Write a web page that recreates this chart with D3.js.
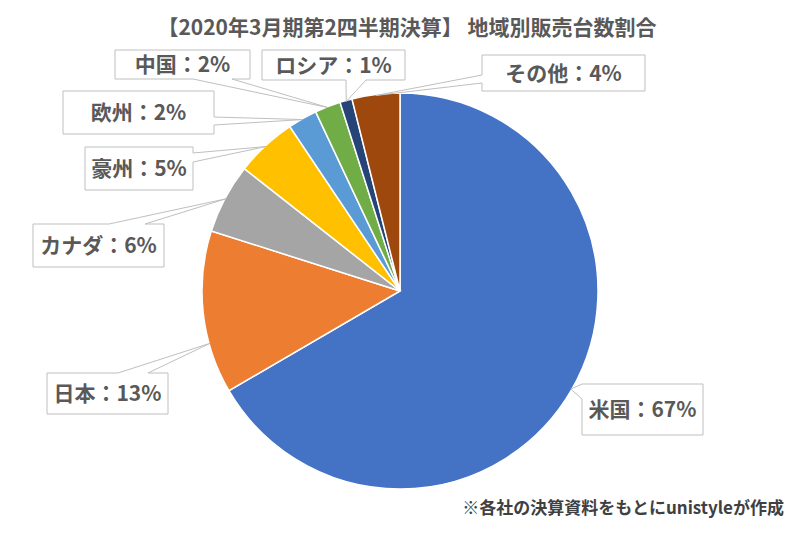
<!DOCTYPE html>
<html>
<head>
<meta charset="utf-8">
<script src="https://cdn.jsdelivr.net/npm/d3@7"></script>
<style>
  html, body { margin: 0; padding: 0; background: #ffffff; }
  svg { display: block; }
  text { font-family: "Noto Sans CJK JP", "Noto Sans", sans-serif; font-weight: bold; }
</style>
</head>
<body>
<svg id="chart" width="800" height="533"></svg>
<script>
// ---- data ----
const regions = ["米国", "日本", "カナダ", "豪州", "欧州", "中国", "ロシア", "その他"];
const shares  = [66.6, 13.3, 5.7, 5.0, 2.4, 2.1, 1.0, 3.9];
const colors  = ["#4472C4", "#ED7D31", "#A5A5A5", "#FFC000", "#5B9BD5", "#70AD47", "#264478", "#9E480E"];
const titleText = "【2020年3月期第2四半期決算】 地域別販売台数割合";
const noteText = "※各社の決算資料をもとにunistyleが作成";

// ---- callout layout (box geometry + pointer side) ----
const calloutBoxes = [
  { x: 582, y: 384, w: 121, h: 51, side: "left",   b1: 384, b2: 399, frac: 0.5 },
  { x: 47,  y: 373, w: 121, h: 41, side: "top",    b1: 118, b2: 148, frac: 0.31 },
  { x: 33,  y: 224, w: 131, h: 43, side: "top",    b1: 109, b2: 145, frac: 0.5 },
  { x: 85,  y: 147, w: 108, h: 43, side: "right",  b1: 153, b2: 162, frac: 0.5 },
  { x: 63,  y: 91,  w: 151, h: 43, side: "right",  b1: 117, b2: 125, frac: 0.5 },
  { x: 115, y: 50,  w: 135, h: 29, side: "bottom", b1: 193, b2: 232, frac: 0.5 },
  { x: 262, y: 50,  w: 143, h: 30, side: "bottom", b1: 346, b2: 366, frac: 0.5 },
  { x: 482, y: 55,  w: 163, h: 36, side: "left",   b1: 75,  b2: 83,  frac: 0.5 }
];

const svg = d3.select("#chart");
const W = 800, H = 533;
const cx = 400, cy = 291, R = 198;

svg.append("rect").attr("width", W).attr("height", H).attr("fill", "#ffffff");

// title
svg.append("text")
  .attr("x", 407).attr("y", 35)
  .attr("text-anchor", "middle")
  .attr("font-size", 21)
  .attr("fill", "#595959")
  .text(titleText);

const data = regions.map((r, i) => ({ region: r, value: shares[i], color: colors[i] }));
const total = d3.sum(shares);
const pie = d3.pie().sort(null).value(d => d.value).startAngle(0).endAngle(2 * Math.PI);
const arcs = pie(data);
const arc = d3.arc().innerRadius(0).outerRadius(R);

const g = svg.append("g").attr("transform", `translate(${cx},${cy})`);
g.selectAll("path.slice")
  .data(arcs)
  .enter().append("path")
  .attr("class", "slice")
  .attr("d", arc)
  .attr("fill", d => d.data.color)
  .attr("stroke", "#ffffff")
  .attr("stroke-width", 1.5);

// callouts
function calloutPath(b, tip) {
  const x0 = b.x, y0 = b.y, x1 = b.x + b.w, y1 = b.y + b.h;
  const p = [];
  p.push([x0, y0]);
  if (b.side === "top") { p.push([b.b1, y0], tip, [b.b2, y0]); }
  p.push([x1, y0]);
  if (b.side === "right") { p.push([x1, b.b1], tip, [x1, b.b2]); }
  p.push([x1, y1]);
  if (b.side === "bottom") { p.push([b.b2, y1], tip, [b.b1, y1]); }
  p.push([x0, y1]);
  if (b.side === "left") { p.push([x0, b.b2], tip, [x0, b.b1]); }
  return "M" + p.map(q => q[0] + "," + q[1]).join("L") + "Z";
}

const fmt = d3.format(".0f");
arcs.forEach((a, i) => {
  const b = calloutBoxes[i];
  const ang = a.startAngle + b.frac * (a.endAngle - a.startAngle);
  const tip = [cx + (R - 1) * Math.sin(ang), cy - (R - 1) * Math.cos(ang)];
  svg.append("path")
    .attr("d", calloutPath(b, tip))
    .attr("fill", "#ffffff")
    .attr("stroke", "#BFBFBF")
    .attr("stroke-width", 1);
  svg.append("text")
    .attr("x", b.x + b.w / 2)
    .attr("y", b.y + b.h / 2)
    .attr("dy", "0.36em")
    .attr("text-anchor", "middle")
    .attr("font-size", 21)
    .attr("fill", "#595959")
    .text(a.data.region + "：" + fmt(a.data.value / total * 100) + "%");
});

// footnote
svg.append("text")
  .attr("x", 784).attr("y", 514)
  .attr("text-anchor", "end")
  .attr("font-size", 17)
  .attr("fill", "#404040")
  .text(noteText);
</script>
</body>
</html>
